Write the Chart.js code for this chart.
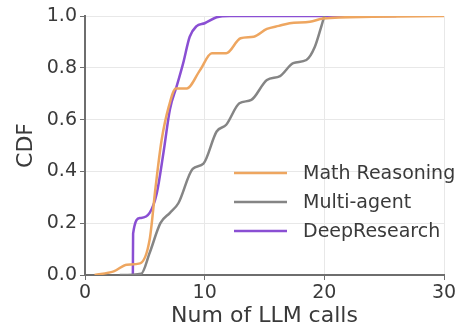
<!DOCTYPE html>
<html>
<head>
<meta charset="utf-8">
<script src="https://cdn.jsdelivr.net/npm/chart.js@4"></script>
<style>
  html, body { margin: 0; padding: 0; background: #fff; }
  #wrap { width: 466px; height: 329px; }
</style>
</head>
<body>
<div id="wrap"><canvas id="cdf" width="466" height="329"></canvas></div>
<script>
// values
var seriesNames = ['Math Reasoning', 'Multi-agent', 'DeepResearch'];
var seriesColors = ['#eea660', '#858585', '#8a4fd3'];

var mathX = [0.8, 2.4, 3.5, 4.6, 5.4, 5.9, 6.4, 7.0, 7.6, 8.5, 9.6, 10.6, 11.8, 13.0, 14.1, 15.2, 16.2, 17.1, 18.8, 19.9, 24, 30];
var mathY = [0, 0.014, 0.04, 0.045, 0.136, 0.34, 0.52, 0.65, 0.72, 0.72, 0.79, 0.856, 0.856, 0.914, 0.92, 0.95, 0.962, 0.972, 0.978, 0.99, 0.997, 1.0];

var multiX = [2.9, 4.7, 5.4, 6.3, 7.1, 7.8, 9.0, 9.9, 11.0, 11.8, 12.9, 13.9, 15.2, 16.3, 17.4, 18.5, 19.2, 19.75, 20.0];
var multiY = [0, 0.005, 0.085, 0.2, 0.24, 0.277, 0.41, 0.43, 0.554, 0.58, 0.663, 0.676, 0.753, 0.768, 0.818, 0.83, 0.88, 0.96, 1.0];

var deepX = [4.0, 4.02, 4.6, 5.4, 6.0, 6.55, 7.1, 7.65, 8.2, 8.75, 9.3, 10.0, 11.0, 12.1, 26.0];
var deepY = [0, 0.16, 0.22, 0.24, 0.316, 0.47, 0.64, 0.727, 0.817, 0.92, 0.96, 0.972, 0.995, 1.0, 1.0];

var xTicks = [0, 10, 20, 30];
var yTicks = [0, 0.2, 0.4, 0.6, 0.8, 1.0];

var FONT = 'DejaVu Sans';
var TEXT = '#3a3a3a';

function points(xs, ys) {
  return xs.map(function (x, i) { return { x: x, y: ys[i] }; });
}

function makeSet(i, xs, ys) {
  return {
    label: seriesNames[i],
    data: points(xs, ys),
    borderColor: seriesColors[i],
    backgroundColor: seriesColors[i],
    borderWidth: 2.5,
    pointRadius: 0,
    cubicInterpolationMode: 'monotone',
    fill: false
  };
}

// legend drawn inside the plot area, lower right
var innerLegend = {
  id: 'innerLegend',
  afterDatasetsDraw: function (chart) {
    var ctx = chart.ctx;
    var x0 = 234, x1 = 287, tx = 303, y0 = 173, step = 29;
    ctx.save();
    ctx.font = '19px "' + FONT + '"';
    ctx.textBaseline = 'middle';
    chart.data.datasets.forEach(function (ds, i) {
      var y = y0 + i * step;
      ctx.strokeStyle = ds.borderColor;
      ctx.lineWidth = 2.5;
      ctx.beginPath();
      ctx.moveTo(x0, y);
      ctx.lineTo(x1, y);
      ctx.stroke();
      ctx.fillStyle = TEXT;
      ctx.fillText(ds.label, tx, y + 1);
    });
    ctx.restore();
  }
};

new Chart(document.getElementById('cdf'), {
  type: 'line',
  data: {
    datasets: [
      makeSet(0, mathX, mathY),
      makeSet(1, multiX, multiY),
      makeSet(2, deepX, deepY)
    ]
  },
  options: {
    responsive: false,
    animation: false,
    layout: { padding: { left: 0, right: 22, top: 16, bottom: 0 } },
    plugins: { legend: { display: false }, tooltip: { enabled: false } },
    scales: {
      x: {
        type: 'linear',
        min: 0,
        max: 30,
        afterBuildTicks: function (s) { s.ticks = xTicks.map(function (v) { return { value: v }; }); },
        afterFit: function (s) { s.height = 54; },
        grid: { color: '#e8e8e8', tickColor: '#6e6e6e', tickLength: 5, lineWidth: 1 },
        border: { color: '#6e6e6e', width: 2 },
        ticks: { color: TEXT, font: { family: FONT, size: 19 }, padding: 2, maxRotation: 0 },
        title: { display: true, text: 'Num of LLM calls', color: TEXT, font: { family: FONT, size: 22 }, padding: { top: 0, bottom: 0 } }
      },
      y: {
        min: 0,
        max: 1,
        afterBuildTicks: function (s) { s.ticks = yTicks.map(function (v) { return { value: v }; }); },
        afterFit: function (s) { s.width = 85; },
        grid: { color: '#e8e8e8', tickColor: '#6e6e6e', tickLength: 5, lineWidth: 1 },
        border: { color: '#6e6e6e', width: 2 },
        ticks: {
          color: TEXT,
          font: { family: FONT, size: 19 },
          padding: 3,
          callback: function (v) { return Number(v).toFixed(1); }
        },
        title: { display: true, text: 'CDF', color: TEXT, font: { family: FONT, size: 22 }, padding: { top: 13, bottom: 0 } }
      }
    }
  },
  plugins: [innerLegend]
});
</script>
</body>
</html>
